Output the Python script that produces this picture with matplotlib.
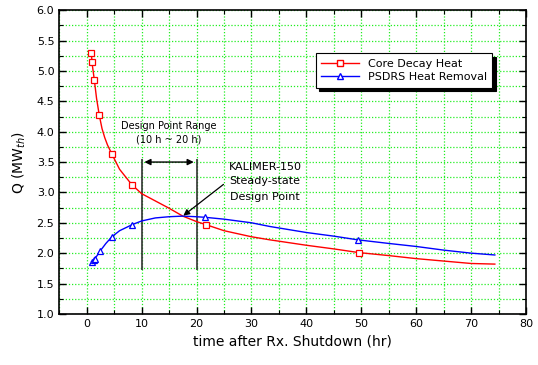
import matplotlib
matplotlib.use('Agg')
import matplotlib.pyplot as plt
from matplotlib.ticker import MultipleLocator

# core decay heat (line + markers)
decay_t = [0.85, 1.0, 1.4, 1.8, 2.3, 2.8, 3.3, 3.8, 4.6, 6.0, 8.2, 10, 12.5, 15, 17.5, 20, 21.7, 25, 30,
           33.3, 40, 45, 49.5, 55, 60, 65, 70, 74.3]
decay_q = [5.30, 5.12, 4.85, 4.55, 4.27, 4.05, 3.90, 3.78, 3.63, 3.38, 3.13, 2.98, 2.86, 2.74, 2.61, 2.52, 2.47,
           2.37, 2.27, 2.22, 2.13, 2.07, 2.01, 1.96, 1.91, 1.87, 1.83, 1.82]
decay_mark_t = [0.85, 0.95, 1.4, 2.3, 4.6, 8.2, 21.7, 49.5]
decay_mark_q = [5.30, 5.15, 4.85, 4.27, 3.63, 3.13, 2.47, 2.01]

# PSDRS heat removal (line + markers)
psdrs_t = [0.9, 1.3, 1.5, 1.9, 2.4, 3.0, 3.5, 4.6, 6.0, 8.3, 10, 12.5, 15, 17.5, 20, 21.6, 25, 30,
           33.3, 40, 45, 49.3, 55, 60, 65, 70, 74.3]
psdrs_q = [1.86, 1.88, 1.91, 1.96, 2.03, 2.10, 2.16, 2.27, 2.37, 2.47, 2.53, 2.58, 2.60, 2.61, 2.60, 2.59,
           2.56, 2.50, 2.44, 2.34, 2.28, 2.22, 2.16, 2.11, 2.05, 2.00, 1.97]
psdrs_mark_t = [0.9, 1.3, 1.5, 2.4, 4.6, 8.3, 21.6, 49.3]
psdrs_mark_q = [1.86, 1.88, 1.91, 2.03, 2.27, 2.47, 2.59, 2.22]

plt.rcParams['font.family'] = 'DejaVu Sans'
fig = plt.figure(figsize=(5.38, 3.65), dpi=100)
ax = fig.add_axes([0.110, 0.140, 0.868, 0.832])

ax.plot(decay_t, decay_q, color='red', lw=1.0, zorder=3)
ax.plot(decay_mark_t, decay_mark_q, ls='none', marker='s', ms=4, mfc='white', mec='red', mew=0.9, zorder=4)
ax.plot(psdrs_t, psdrs_q, color='blue', lw=1.0, zorder=3)
ax.plot(psdrs_mark_t, psdrs_mark_q, ls='none', marker='^', ms=4.5, mfc='white', mec='blue', mew=0.9, zorder=4)

# legend proxies
ax.plot([], [], color='red', lw=1.0, marker='s', ms=4, mfc='white', mec='red', label='Core Decay Heat')
ax.plot([], [], color='blue', lw=1.0, marker='^', ms=4.5, mfc='white', mec='blue', label='PSDRS Heat Removal')
leg = ax.legend(loc='upper left', bbox_to_anchor=(0.537, 0.877), fontsize=8, frameon=True,
                fancybox=False, shadow={'color': 'black', 'alpha': 1.0, 'ox': 2.5, 'oy': -2.5},
                borderpad=0.5, handlelength=3.4, labelspacing=0.3, framealpha=1)
leg.get_frame().set_edgecolor('black')
leg.get_frame().set_linewidth(0.8)

# design point range
ax.vlines([10, 20], 1.72, 3.55, color='#333333', lw=1.2, zorder=2)
ax.annotate('', xy=(10, 3.50), xytext=(20, 3.50),
            arrowprops=dict(arrowstyle='<|-|>', color='black', lw=1.0, mutation_scale=9))
ax.text(15, 4.09, 'Design Point Range', ha='center', va='center', fontsize=7)
ax.text(15, 3.87, '(10 h ~ 20 h)', ha='center', va='center', fontsize=7)

ax.text(32.5, 3.42, 'KALIMER-150', ha='center', va='center', fontsize=8)
ax.text(32.5, 3.18, 'Steady-state', ha='center', va='center', fontsize=8)
ax.text(32.5, 2.92, 'Design Point', ha='center', va='center', fontsize=8)
ax.annotate('', xy=(17.2, 2.59), xytext=(25.3, 3.16),
            arrowprops=dict(arrowstyle='-|>', color='black', lw=0.9, mutation_scale=9))

ax.set_xlim(-5, 80)
ax.set_ylim(1.0, 6.0)
ax.xaxis.set_major_locator(MultipleLocator(10))
ax.xaxis.set_minor_locator(MultipleLocator(5))
ax.yaxis.set_major_locator(MultipleLocator(0.5))
ax.yaxis.set_minor_locator(MultipleLocator(0.25))
ax.yaxis.set_major_formatter(matplotlib.ticker.FormatStrFormatter('%.1f'))
ax.tick_params(which='both', direction='in', top=True, right=True, labelsize=8)
ax.tick_params(which='major', length=5, width=1.0)
ax.tick_params(which='minor', length=3, width=0.8)
ax.grid(True, which='both', color='#22ee22', ls=(0, (1, 1.5)), lw=0.9)
ax.set_axisbelow(True)
for s in ax.spines.values():
    s.set_linewidth(1.2)

ax.set_xlabel('time after Rx. Shutdown (hr)', fontsize=10)
ax.set_ylabel('Q (MW$_{th}$)', fontsize=10, labelpad=6)

fig.savefig('out.png', dpi=100)
